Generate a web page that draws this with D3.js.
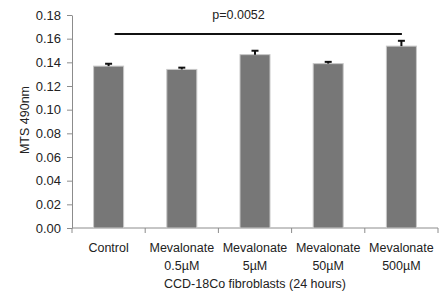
<!DOCTYPE html>
<html>
<head>
<meta charset="utf-8">
<script src="https://cdn.jsdelivr.net/npm/d3@7"></script>
<style>
  body { margin: 0; background: #fff; }
  text { font-family: "Liberation Sans", Arial, sans-serif; fill: #222; }
</style>
</head>
<body>
<svg id="chart" width="444" height="294"></svg>
<script>
const categories = [['Control'], ['Mevalonate', '0.5\u00b5M'], ['Mevalonate', '5\u00b5M'], ['Mevalonate', '50\u00b5M'], ['Mevalonate', '500\u00b5M']];
const values = [0.1368, 0.1340, 0.1465, 0.1389, 0.1537];
const errors = [0.0020, 0.0015, 0.0033, 0.0015, 0.0045];
const yTicks = [0, 0.02, 0.04, 0.06, 0.08, 0.10, 0.12, 0.14, 0.16, 0.18];
const pLabel = 'p=0.0052';
const pValueY = 0.164;

const svg = d3.select('#chart');
const mLeft = 72, mRight = 438, mTop = 15, mBottom = 228;

const x = d3.scaleBand()
  .domain(d3.range(categories.length))
  .range([mLeft, mRight])
  .paddingInner(0.59)
  .paddingOuter(0.295);

const y = d3.scaleLinear().domain([0, 0.18]).range([mBottom, mTop]);
const cx = i => x(i) + x.bandwidth() / 2;

// axes
const yAxis = svg.append('g')
  .attr('transform', `translate(${mLeft},0)`)
  .call(d3.axisLeft(y).tickValues(yTicks).tickFormat(d3.format('.2f')).tickSize(5).tickSizeOuter(0));
yAxis.select('.domain').attr('stroke', '#8c8c8c');
yAxis.selectAll('.tick line').attr('stroke', '#8c8c8c');
yAxis.selectAll('.tick text').attr('font-size', 13).attr('x', -11).attr('fill', '#222');

const step = (mRight - mLeft) / categories.length;
const xAxis = svg.append('g').attr('transform', `translate(0,${mBottom})`);
xAxis.append('line').attr('x1', mLeft).attr('x2', mRight).attr('stroke', '#8c8c8c');
xAxis.selectAll('.xt')
  .data(d3.range(categories.length + 1))
  .join('line')
  .attr('x1', i => mLeft + i * step).attr('x2', i => mLeft + i * step)
  .attr('y1', 0).attr('y2', 5)
  .attr('stroke', '#8c8c8c');

// bars
svg.append('g').selectAll('rect')
  .data(values)
  .join('rect')
  .attr('x', (d, i) => x(i))
  .attr('y', d => y(d))
  .attr('width', x.bandwidth())
  .attr('height', d => y(0) - y(d))
  .attr('fill', '#777777')
  .attr('stroke', '#c8c8c8')
  .attr('stroke-width', 1);

// error bars (upper only)
const eb = svg.append('g').attr('stroke', '#111').attr('stroke-width', 2);
values.forEach((v, i) => {
  eb.append('line').attr('x1', cx(i)).attr('x2', cx(i)).attr('y1', y(v)).attr('y2', y(v + errors[i]));
  eb.append('line').attr('x1', cx(i) - 3.5).attr('x2', cx(i) + 3.5).attr('y1', y(v + errors[i])).attr('y2', y(v + errors[i]));
});

// category labels
const lab = svg.append('g');
categories.forEach((lines, i) => {
  lines.forEach((t, j) => {
    lab.append('text')
      .attr('x', cx(i)).attr('y', 252 + j * 18)
      .attr('text-anchor', 'middle')
      .attr('font-size', 12.5)
      .text(t);
  });
});

// axis titles
svg.append('text')
  .attr('transform', `translate(29,120) rotate(-90)`)
  .attr('text-anchor', 'middle')
  .attr('font-size', 12.5)
  .text('MTS 490nm');

svg.append('text')
  .attr('x', (mLeft + mRight) / 2).attr('y', 288)
  .attr('text-anchor', 'middle')
  .attr('font-size', 12.5)
  .text('CCD-18Co fibroblasts (24 hours)');

// significance line
svg.append('line')
  .attr('x1', cx(0) + 6).attr('x2', cx(4) + 0.5)
  .attr('y1', y(pValueY)).attr('y2', y(pValueY))
  .attr('stroke', '#111').attr('stroke-width', 2);

svg.append('text')
  .attr('x', 238.5).attr('y', 19)
  .attr('text-anchor', 'middle')
  .attr('font-size', 12.5)
  .text(pLabel);
</script>
</body>
</html>
